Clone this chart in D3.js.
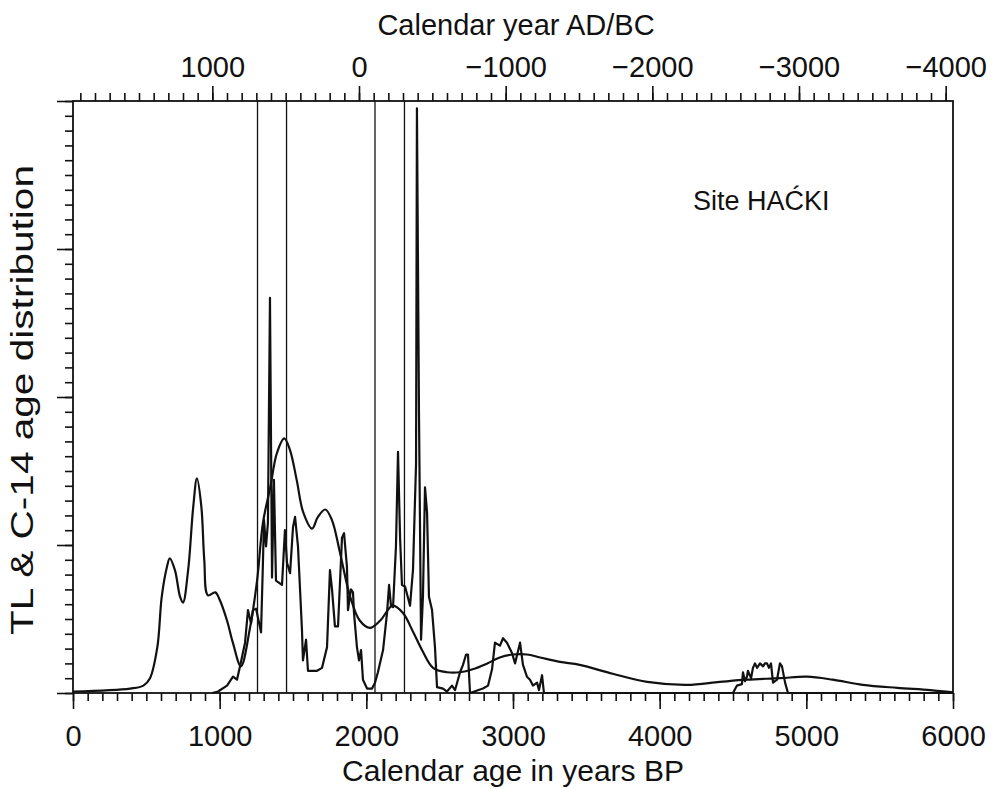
<!DOCTYPE html>
<html>
<head>
<meta charset="utf-8">
<script src="https://cdn.jsdelivr.net/npm/d3@7"></script>
<style>
  body { margin: 0; background: #fff; }
  svg text { font-family: "Liberation Sans", Arial, sans-serif; fill: #111; }
</style>
</head>
<body>
<div id="chart"></div>
<script>
// bottom axis (years BP) and top axis (calendar year)
var bpTicks = [0, 1000, 2000, 3000, 4000, 5000, 6000];
var calTicks = [1000, 0, -1000, -2000, -3000, -4000];
var AD_ZERO = 1950; // calendar year = 1950 - BP

// TL dates (single lines)
var tlDates = [1258, 1456, 2059, 2260];

// smooth summed distribution
var sumAge = [0, 390, 480, 525, 575, 605, 640, 660, 695, 730,
  750, 785, 820, 845, 875, 895, 920, 970, 1000, 1050,
  1090, 1145, 1205, 1255, 1295, 1345, 1390, 1440, 1480, 1525,
  1570, 1630, 1670, 1720, 1765, 1820, 1890, 1955, 2025, 2095,
  2180, 2250, 2320, 2385, 2455, 2550, 2640, 2725, 2825, 2910,
  3000, 3095, 3185, 3320, 3455, 3680, 3915, 4185, 4410, 4595,
  4820, 5005, 5180, 5385, 5620, 5845, 6000];
var sumDens = [0.01, 0.03, 0.05, 0.10, 0.31, 0.65, 0.85, 0.91, 0.83, 0.65,
  0.61, 0.83, 1.26, 1.45, 1.26, 0.90, 0.66, 0.68, 0.63, 0.49,
  0.34, 0.18, 0.43, 0.76, 1.15, 1.39, 1.62, 1.72, 1.64, 1.44,
  1.22, 1.11, 1.19, 1.24, 1.17, 0.95, 0.65, 0.49, 0.44, 0.49,
  0.59, 0.54, 0.41, 0.28, 0.17, 0.14, 0.14, 0.16, 0.20, 0.24,
  0.26, 0.26, 0.24, 0.21, 0.19, 0.13, 0.075, 0.055, 0.075, 0.09,
  0.10, 0.11, 0.09, 0.055, 0.035, 0.02, 0.005];

// calibrated C-14 distribution
var c14Age = [950, 989, 1050, 1091, 1118, 1139, 1173, 1193, 1214, 1227,
  1248, 1261, 1282, 1295, 1302, 1316, 1329, 1343, 1357, 1370,
  1384, 1425, 1445, 1459, 1480, 1500, 1514, 1534, 1561, 1568,
  1589, 1602, 1664, 1698, 1732, 1752, 1766, 1786, 1807, 1834,
  1848, 1868, 1875, 1895, 1909, 1916, 1936, 1950, 1964, 1977,
  2005, 2039, 2059, 2079, 2114, 2141, 2155, 2168, 2182, 2202,
  2216, 2230, 2243, 2264, 2298, 2318, 2339, 2345, 2359, 2373,
  2386, 2400, 2414, 2427, 2448, 2468, 2482, 2523, 2550, 2584,
  2605, 2639, 2659, 2680, 2693, 2707, 2795, 2830, 2857, 2877,
  2911, 2932, 2959, 2993, 3014, 3048, 3068, 3095, 3116, 3136,
  3164, 3177, 3198, 3211, 3341, 4432, 4500, 4527, 4561, 4568,
  4582, 4595, 4602, 4623, 4636, 4650, 4664, 4684, 4705, 4718,
  4732, 4745, 4759, 4773, 4800, 4820, 4834, 4855, 4875, 6000];
var c14Prob = [0, 0.01, 0.05, 0.11, 0.09, 0.18, 0.34, 0.56, 0.47, 0.56,
  0.57, 0.51, 0.41, 0.88, 1.17, 0.99, 1.15, 2.67, 0.78, 1.44,
  0.76, 0.73, 1.10, 0.88, 0.81, 1.12, 1.19, 0.99, 0.43, 0.22,
  0.36, 0.15, 0.15, 0.17, 0.31, 0.83, 0.70, 0.45, 0.45, 1.05,
  1.08, 0.85, 0.56, 0.70, 0.68, 0.54, 0.31, 0.22, 0.29, 0.09,
  0.03, 0.03, 0.07, 0.14, 0.29, 0.54, 0.73, 0.59, 0.58, 0.99,
  1.63, 1.05, 0.73, 0.72, 0.59, 0.83, 1.55, 3.95, 1.89, 0.36,
  0.65, 1.39, 1.22, 0.65, 0.56, 0.31, 0.04, 0.03, 0.01, 0.05,
  0.02, 0.14, 0.19, 0.26, 0.26, 0.00, 0.03, 0.05, 0.16, 0.34,
  0.32, 0.37, 0.34, 0.27, 0.20, 0.34, 0.19, 0.11, 0.09, 0.05,
  0.07, 0.02, 0.12, 0.00, 0.00, 0.00, 0.00, 0.05, 0.06, 0.14,
  0.08, 0.11, 0.15, 0.10, 0.17, 0.20, 0.17, 0.20, 0.18, 0.20,
  0.20, 0.17, 0.20, 0.07, 0.09, 0.20, 0.18, 0.07, 0.00, 0.00];

var margin = {top: 101, right: 40, bottom: 96, left: 73};
var width = 993 - margin.left - margin.right,
    height = 789 - margin.top - margin.bottom;

var svg = d3.select("#chart").append("svg")
    .attr("width", 993)
    .attr("height", 789)
  .append("g")
    .attr("transform", "translate(" + margin.left + "," + margin.top + ")");

var x = d3.scaleLinear().domain([0, 6000]).range([0, width]);
var xTop = d3.scaleLinear().domain([AD_ZERO, AD_ZERO - 6000]).range([0, width]);
var y = d3.scaleLinear().domain([0, 4]).range([height, 0]);

function styleAxis(g) {
  g.select(".domain").remove();
  g.selectAll("line").attr("stroke", "#111").attr("stroke-width", 1.6);
  g.selectAll("text").style("font-size", "29px").attr("fill", "#111");
}

// bottom axis: minor ticks every 100 years, majors every 1000
svg.append("g")
    .attr("transform", "translate(0," + height + ")")
    .call(d3.axisBottom(x).tickValues(d3.range(0, 6001, 100)).tickSize(8).tickFormat(""))
    .call(styleAxis);
svg.append("g")
    .attr("transform", "translate(0," + height + ")")
    .call(d3.axisBottom(x).tickValues(bpTicks).tickSize(16).tickPadding(16).tickFormat(d3.format("d")))
    .call(styleAxis);

// top axis in calendar years
svg.append("g")
    .call(d3.axisTop(xTop).tickValues(d3.range(1900, -4001, -100)).tickSize(8).tickFormat(""))
    .call(styleAxis);
svg.append("g")
    .call(d3.axisTop(xTop).tickValues(calTicks).tickSize(15).tickPadding(9).tickFormat(d3.format("d")))
    .call(styleAxis);

// left axis, no labels
svg.append("g")
    .call(d3.axisLeft(y).tickValues(d3.range(0, 4.001, 0.1)).tickSize(8).tickFormat(""))
    .call(styleAxis);
svg.append("g")
    .call(d3.axisLeft(y).tickValues([0, 1, 2, 3, 4]).tickSize(16).tickFormat(""))
    .call(styleAxis);

// frame
svg.append("rect")
    .attr("width", width)
    .attr("height", height)
    .attr("fill", "none")
    .attr("stroke", "#111")
    .attr("stroke-width", 1.8);

// TL dates as vertical lines
svg.selectAll(".tl")
    .data(tlDates)
    .enter()
    .append("line")
    .attr("class", "tl")
    .attr("x1", function (d) { return x(d); })
    .attr("x2", function (d) { return x(d); })
    .attr("y1", y(0))
    .attr("y2", y(4))
    .attr("stroke", "#111")
    .attr("stroke-width", 1.3);

var sumLine = d3.line()
    .x(function (d) { return x(d[0]); })
    .y(function (d) { return y(d[1]); })
    .curve(d3.curveCatmullRom.alpha(0.5));

var c14Line = d3.line()
    .x(function (d) { return x(d[0]); })
    .y(function (d) { return y(d[1]); });

svg.append("path")
    .datum(d3.zip(sumAge, sumDens))
    .attr("d", sumLine)
    .attr("fill", "none")
    .attr("stroke", "#111")
    .attr("stroke-width", 2.2);

svg.append("path")
    .datum(d3.zip(c14Age, c14Prob))
    .attr("d", c14Line)
    .attr("fill", "none")
    .attr("stroke", "#111")
    .attr("stroke-width", 2.2)
    .attr("stroke-linejoin", "round");

// titles
svg.append("text")
    .attr("x", width / 2 + 3)
    .attr("y", -66)
    .attr("text-anchor", "middle")
    .style("font-size", "29px")
    .text("Calendar year AD/BC");

svg.append("text")
    .attr("x", width / 2)
    .attr("y", height + 88)
    .attr("text-anchor", "middle")
    .style("font-size", "30px")
    .text("Calendar age in years BP");

// the scanned y title is drawn stretched along its length
svg.append("text")
    .attr("transform", "rotate(-90)")
    .attr("x", -299)
    .attr("y", -40)
    .attr("text-anchor", "middle")
    .attr("textLength", 470)
    .attr("lengthAdjust", "spacingAndGlyphs")
    .style("font-size", "31px")
    .text("TL & C-14 age distribution");

svg.append("text")
    .attr("x", 620)
    .attr("y", 109)
    .style("font-size", "27px")
    .text("Site HAĆKI");
</script>
</body>
</html>
